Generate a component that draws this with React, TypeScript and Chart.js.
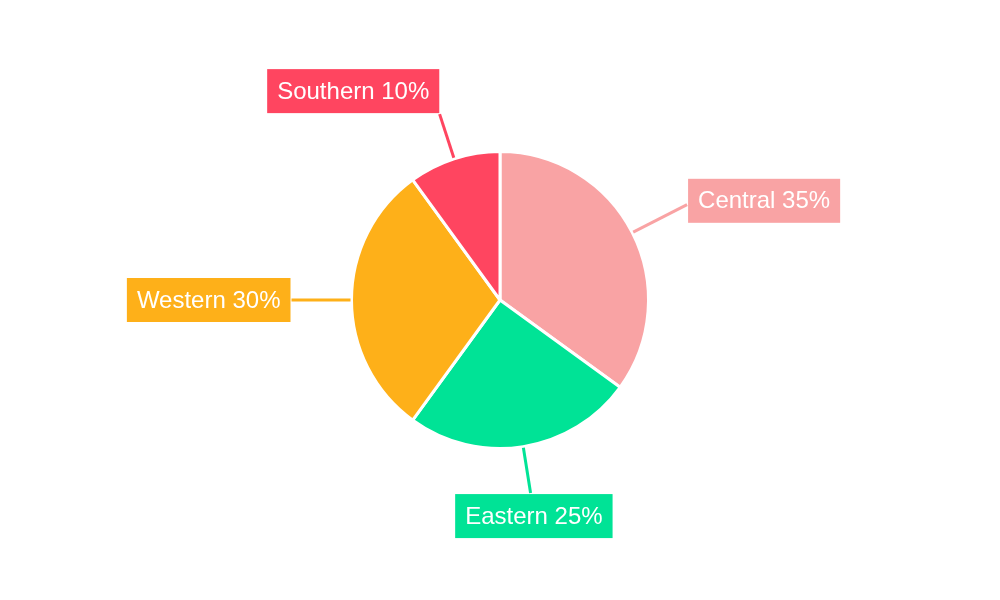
import React, { useEffect, useRef } from "react";
import { Chart, registerables } from "chart.js";

Chart.register(...registerables);

const regions = ["Central", "Eastern", "Western", "Southern"];
const shares = [35, 25, 30, 10];
const colors = ["#F9A3A4", "#00E396", "#FEB019", "#FF4560"];

const labelPlugin = {
  id: "calloutLabels",
  afterDraw(chart: any) {
    const ctx = chart.ctx;
    const meta = chart.getDatasetMeta(0);
    ctx.save();
    ctx.font = "24px 'Liberation Sans', Arial, sans-serif";
    ctx.textBaseline = "middle";
    meta.data.forEach((arc: any, i: number) => {
      const { x: cx, y: cy, outerRadius: r, startAngle, endAngle } = arc.getProps(
        ["x", "y", "outerRadius", "startAngle", "endAngle"],
        true
      );
      const mid = (startAngle + endAngle) / 2;
      const dx = Math.cos(mid);
      const dy = Math.sin(mid);
      const L = 48;
      const ax = cx + dx * (r + L);
      const ay = cy + dy * (r + L);
      const text = `${regions[i]} ${shares[i]}%`;
      const tw = ctx.measureText(text).width;
      const padX = 10;
      const h = 44;
      const w = tw + padX * 2;
      const sx = dx > 0.3 ? 1 : dx < -0.25 ? -1 : 0;
      const sy = dy < -0.9 ? -1 : dy > 0.9 ? 1 : 0;
      const gap = sy === 0 ? 13 : 0;
      let bx: number;
      if (sx === 1) bx = ax + gap;
      else if (sx === -1) bx = ax - gap - w;
      else bx = ax - w / 2 + dx * 20;
      let by: number;
      if (sy === 1) by = ay;
      else if (sy === -1) by = ay - h;
      else by = ay - h / 2 + dy * 22;
      let tmin = -Infinity;
      let tmax = Infinity;
      const slab = (o: number, d: number, lo: number, hi: number) => {
        if (Math.abs(d) < 1e-9) {
          if (o < lo - 1 || o > hi + 1) { tmin = Infinity; }
          return;
        }
        let t1 = (lo - o) / d;
        let t2 = (hi - o) / d;
        if (t1 > t2) [t1, t2] = [t2, t1];
        tmin = Math.max(tmin, t1);
        tmax = Math.min(tmax, t2);
      };
      slab(cx, dx, bx - 1, bx + w + 1);
      slab(cy, dy, by - 1, by + h + 1);
      let ex = ax;
      let ey = ay;
      if (tmin <= tmax && tmin > r) {
        ex = cx + dx * tmin;
        ey = cy + dy * tmin;
      }
      ctx.strokeStyle = colors[i];
      ctx.lineWidth = 3;
      ctx.beginPath();
      ctx.moveTo(cx + dx * (r + 1), cy + dy * (r + 1));
      ctx.lineTo(ex, ey);
      ctx.stroke();
      ctx.fillStyle = colors[i];
      ctx.fillRect(bx, by, w, h);
      ctx.fillStyle = "#ffffff";
      ctx.textAlign = "left";
      ctx.fillText(text, bx + padX, by + h / 2 + 1);
    });
    ctx.restore();
  },
};

export default function App() {
  const ref = useRef<HTMLCanvasElement | null>(null);
  useEffect(() => {
    if (!ref.current) return;
    const chart = new Chart(ref.current, {
      type: "pie",
      data: {
        labels: regions,
        datasets: [
          {
            data: shares,
            backgroundColor: colors,
            borderColor: "#ffffff",
            borderWidth: 3,
          },
        ],
      },
      options: {
        responsive: false,
        animation: false,
        layout: { padding: { top: 150, bottom: 150, left: 0, right: 0 } },
        plugins: {
          legend: { display: false },
          tooltip: { enabled: false },
        },
      },
      plugins: [labelPlugin],
    });
    return () => chart.destroy();
  }, []);
  return (
    <div style={{ position: "absolute", left: 0, top: 0, width: 1000, height: 600, background: "#fff" }}>
      <canvas ref={ref} width={1000} height={600} style={{ width: 1000, height: 600 }} />
    </div>
  );
}
